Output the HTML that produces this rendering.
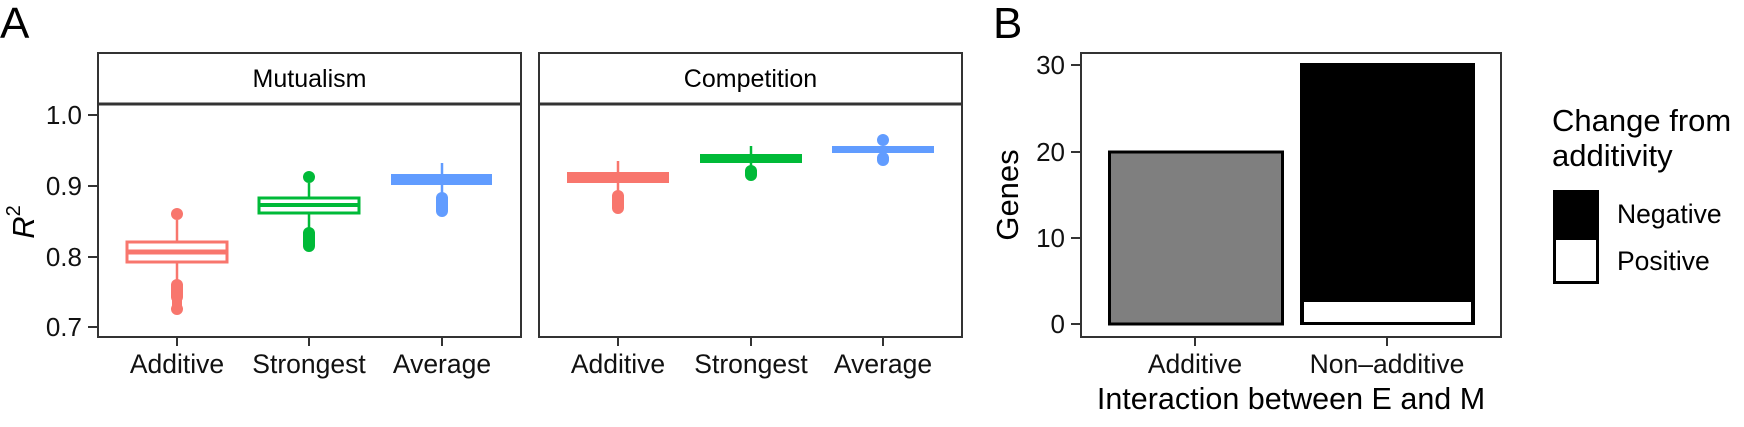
<!DOCTYPE html>
<html><head><meta charset="utf-8"><style>
html,body{margin:0;padding:0;background:#fff}
svg{display:block;font-family:"Liberation Sans",Arial,sans-serif}
</style></head><body>
<svg width="1744" height="427" viewBox="0 0 1744 427" xmlns="http://www.w3.org/2000/svg">
<rect width="1744" height="427" fill="#fff"/>
<text x="0" y="38" font-size="44">A</text>
<text x="993" y="38" font-size="44">B</text>

<rect x="98" y="53" width="423" height="51" fill="#fff" stroke="#333" stroke-width="2"/>
<line x1="98" y1="104" x2="521" y2="104" stroke="#333" stroke-width="3"/>
<text x="309.5" y="87" font-size="25" text-anchor="middle">Mutualism</text>
<rect x="539" y="53" width="423" height="51" fill="#fff" stroke="#333" stroke-width="2"/>
<line x1="539" y1="104" x2="962" y2="104" stroke="#333" stroke-width="3"/>
<text x="750.5" y="87" font-size="25" text-anchor="middle">Competition</text>
<rect x="98" y="104" width="423" height="233" fill="none" stroke="#333" stroke-width="2"/>
<rect x="539" y="104" width="423" height="233" fill="none" stroke="#333" stroke-width="2"/>

<g stroke="#333" stroke-width="2">
<line x1="88" y1="115" x2="98" y2="115"/><line x1="88" y1="186" x2="98" y2="186"/>
<line x1="88" y1="257" x2="98" y2="257"/><line x1="88" y1="327" x2="98" y2="327"/>
</g>
<g font-size="26" text-anchor="end" fill="#111">
<text x="82" y="124">1.0</text><text x="82" y="195">0.9</text>
<text x="82" y="266">0.8</text><text x="82" y="336">0.7</text>
</g>
<text transform="translate(34,222) rotate(-90)" font-size="31" font-style="italic" text-anchor="middle">R<tspan font-size="20" dy="-14" font-style="normal">2</tspan></text>

<g stroke="#333" stroke-width="2">
<line x1="177" y1="337" x2="177" y2="346"/><line x1="309" y1="337" x2="309" y2="346"/><line x1="442" y1="337" x2="442" y2="346"/>
<line x1="618" y1="337" x2="618" y2="346"/><line x1="751" y1="337" x2="751" y2="346"/><line x1="883" y1="337" x2="883" y2="346"/>
</g>
<g font-size="26.5" text-anchor="middle" fill="#111">
<text x="177" y="373">Additive</text><text x="309" y="373">Strongest</text><text x="442" y="373">Average</text>
<text x="618" y="373">Additive</text><text x="751" y="373">Strongest</text><text x="883" y="373">Average</text>
</g>

<g stroke="#F8766D" fill="#F8766D" stroke-width="2.5">
<line x1="177" y1="220" x2="177" y2="242"/><line x1="177" y1="262" x2="177" y2="282"/>
<rect x="127" y="242" width="100" height="20" fill="#fff" stroke-width="3"/>
<line x1="127" y1="252" x2="227" y2="252" stroke-width="5"/>
<circle cx="177" cy="214" r="6" stroke="none"/>
<rect x="171" y="279" width="12" height="24" rx="6" stroke="none"/>
<circle cx="177" cy="309" r="6" stroke="none"/>
<rect x="172" y="295" width="10" height="14" stroke="none"/>
</g>
<g stroke="#00BA38" fill="#00BA38" stroke-width="2.5">
<line x1="309" y1="183" x2="309" y2="198"/><line x1="309" y1="213" x2="309" y2="230"/>
<rect x="259" y="198" width="100" height="15" fill="#fff" stroke-width="3"/>
<line x1="259" y1="205" x2="359" y2="205" stroke-width="4"/>
<circle cx="309" cy="177" r="6" stroke="none"/>
<rect x="303" y="227" width="12" height="25" rx="6" stroke="none"/>
</g>
<g stroke="#619CFF" fill="#619CFF" stroke-width="2.5">
<line x1="442" y1="163" x2="442" y2="175"/><line x1="442" y1="185" x2="442" y2="193"/>
<rect x="391" y="174" width="101" height="11" stroke="none"/>
<rect x="436" y="192" width="12" height="25" rx="6" stroke="none"/>
</g>

<g fill="#F8766D" stroke="#F8766D" stroke-width="2.5">
<line x1="618" y1="161" x2="618" y2="172"/><line x1="618" y1="183" x2="618" y2="192"/>
<rect x="567" y="172" width="102" height="11" stroke="none"/>
<rect x="612" y="190" width="12" height="24" rx="6" stroke="none"/>
</g>
<g fill="#00BA38" stroke="#00BA38" stroke-width="2.5">
<line x1="751" y1="146" x2="751" y2="154"/><line x1="751" y1="163" x2="751" y2="168"/>
<rect x="700" y="154" width="102" height="9" stroke="none"/>
<rect x="745" y="165" width="12" height="16" rx="6" stroke="none"/>
</g>
<g fill="#619CFF" stroke="none">
<rect x="832" y="146" width="102" height="7"/>
<circle cx="883" cy="140" r="6"/>
<rect x="877" y="152" width="12" height="14" rx="6"/>
</g>

<rect x="1081" y="53" width="420" height="284" fill="#fff" stroke="#333" stroke-width="2"/>
<g stroke="#333" stroke-width="2">
<line x1="1071" y1="65" x2="1081" y2="65"/><line x1="1071" y1="152" x2="1081" y2="152"/>
<line x1="1071" y1="238" x2="1081" y2="238"/><line x1="1071" y1="324" x2="1081" y2="324"/>
<line x1="1195" y1="337" x2="1195" y2="346"/><line x1="1387" y1="337" x2="1387" y2="346"/>
</g>
<g font-size="26" text-anchor="end" fill="#111">
<text x="1065" y="74">30</text><text x="1065" y="161">20</text>
<text x="1065" y="247">10</text><text x="1065" y="333">0</text>
</g>
<text transform="translate(1018,195) rotate(-90)" font-size="31" text-anchor="middle">Genes</text>
<rect x="1109.5" y="152" width="173" height="172" fill="#7f7f7f" stroke="#000" stroke-width="3"/>
<rect x="1300" y="63" width="175" height="262" fill="#000"/>
<rect x="1302.5" y="300.5" width="170" height="23" fill="#fff" stroke="#000" stroke-width="3"/>
<g font-size="26.5" text-anchor="middle" fill="#111">
<text x="1195" y="373">Additive</text><text x="1387" y="373">Non–additive</text>
</g>
<text x="1291" y="409" font-size="30.5" text-anchor="middle">Interaction between E and M</text>

<text x="1552" y="131" font-size="31">Change from</text>
<text x="1552" y="166" font-size="31">additivity</text>
<rect x="1553" y="190" width="46" height="47" fill="#000"/>
<rect x="1554.5" y="238.5" width="43" height="44" fill="#fff" stroke="#000" stroke-width="3"/>
<text x="1617" y="223" font-size="26.5">Negative</text>
<text x="1617" y="270" font-size="26.5">Positive</text>
</svg>
</body></html>
